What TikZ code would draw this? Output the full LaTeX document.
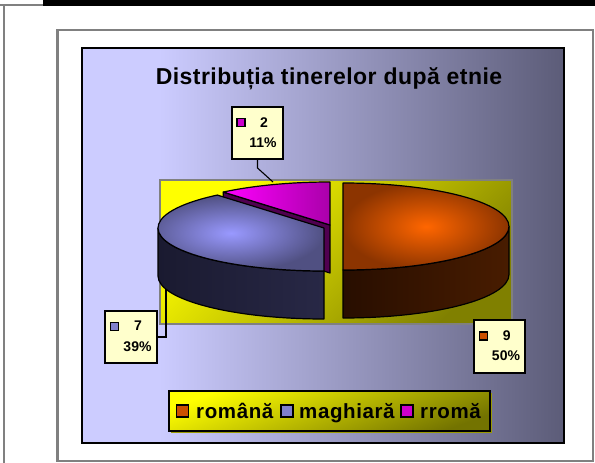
\documentclass[tikz,border=0pt]{standalone}
\usepackage{fontspec}
\setmainfont{Liberation Sans}
\newfontfamily\titlefont[LetterSpace=2]{Liberation Sans}
\newfontfamily\legfont[LetterSpace=3]{Liberation Sans}
\usetikzlibrary{calc}
\definecolor{bgL}{RGB}{204,204,255}
\definecolor{bgR}{RGB}{92,92,120}
\definecolor{frameGrey}{RGB}{128,128,128}
\definecolor{yelTop}{RGB}{255,255,0}
\definecolor{yelBot}{RGB}{128,128,0}
\definecolor{lblFill}{RGB}{255,255,204}
\definecolor{rmIn}{RGB}{255,102,0}
\definecolor{rmOut}{RGB}{140,52,0}
\definecolor{rmSideL}{RGB}{40,14,0}
\definecolor{rmSideM}{RGB}{150,58,0}
\definecolor{rmSideR}{RGB}{72,28,0}
\definecolor{mgIn}{RGB}{153,153,255}
\definecolor{mgOut}{RGB}{80,80,130}
\definecolor{mgSideL}{RGB}{26,26,48}
\definecolor{mgSideM}{RGB}{80,80,126}
\definecolor{mgSideR}{RGB}{40,40,70}
\definecolor{rrL}{RGB}{255,0,255}
\definecolor{rrR}{RGB}{170,0,170}
\definecolor{rrCut}{RGB}{80,0,80}
\definecolor{rmMark}{RGB}{204,80,0}
\definecolor{mgMark}{RGB}{128,128,204}
\definecolor{rrMark}{RGB}{204,0,204}
\pgfdeclarehorizontalshading{chartbg}{100bp}{color(0bp)=(bgL); color(25bp)=(bgL); color(33bp)=(bgL); color(75bp)=(bgR); color(100bp)=(bgR)}
\begin{document}
\begin{tikzpicture}[x=1pt,y=-1pt,
  pieline/.style={draw=black,line width=1.2pt,line join=round},
  lblbox/.style={draw=black,line width=1.3pt,fill=lblFill,inner sep=0pt},
  lbltext/.style={font=\fontsize{14}{15}\selectfont\bfseries,inner sep=0pt,anchor=base},
  markbox/.style={draw=black,line width=1.1pt,inner sep=0pt},
  legtext/.style={font=\legfont\fontsize{20.5}{22}\selectfont\bfseries,inner sep=0pt,anchor=base west},
  leader/.style={draw=black,line width=1.1pt}]
\useasboundingbox (0,0) rectangle (595,463);
\fill[white] (0,0) rectangle (595,463);
% page decorations
\fill[black] (43,0) rectangle (595,5.5);
\draw[frameGrey,line width=2pt] (0,5) -- (43,5);
\draw[frameGrey,line width=2pt] (4.3,5) -- (4.3,463);
\draw[frameGrey,line width=2.6pt] (57.5,30) rectangle (593,461);
% chart area
\shade[shading=chartbg] (82,48) rectangle (563.5,442.5);
\draw[black,line width=2pt] (82,48) rectangle (563.5,442.5);
\node[font=\titlefont\fontsize{23}{25}\selectfont\bfseries,inner sep=0pt,anchor=base] (title) at (329,84) {Distribuția tinerelor după etnie};
% plot area
\shade[top color=yelTop,bottom color=yelBot,shading angle=45] (160,180) rectangle (512,324);
\draw[frameGrey,line width=1.5pt] (160,180) rectangle (512,324);
% pie centres
\coordinate (Cr) at (330,225);
\coordinate (Cm) at (324,228);
\coordinate (Co) at (343,226.5);
% rroma slice
\filldraw[pieline,fill=rrCut] (Cr) -- ++(-130:166 and 43) -- ++(0,48) -- (330,273) -- cycle;
\shadedraw[pieline,left color=rrL,right color=rrR] (Cr) -- ++(-90:166 and 43) arc[start angle=-90,end angle=-130,x radius=166,y radius=43] -- cycle;
% maghiara slice
\shadedraw[pieline,left color=mgSideL,middle color=mgSideM,right color=mgSideR] (Cm) ++(180:166 and 43) arc[start angle=180,end angle=90,x radius=166,y radius=43] -- ++(0,48) arc[start angle=90,end angle=180,x radius=166,y radius=43] -- cycle;
\shadedraw[pieline,inner color=mgIn,outer color=mgOut] (Cm) -- ++(-130:166 and 43) arc[start angle=-130,end angle=-270,x radius=166,y radius=43] -- cycle;
% romana slice
\shadedraw[pieline,left color=rmSideL,middle color=rmSideM,right color=rmSideR] (Co) ++(90:166 and 43.5) arc[start angle=90,end angle=0,x radius=166,y radius=43.5] -- ++(0,48) arc[start angle=0,end angle=90,x radius=166,y radius=43.5] -- cycle;
\shadedraw[pieline,inner color=rmIn,outer color=rmOut] (Co) -- ++(-90:166 and 43.5) arc[start angle=-90,end angle=90,x radius=166,y radius=43.5] -- cycle;
% data labels
\node[lblbox,minimum width=51pt,minimum height=52pt] (b2) at (257.5,133) {};
\coordinate (l2a) at (257.5,168);
\coordinate (l2b) at (273,182);
\draw[leader] (b2.south) -- (l2a) -- (l2b);
\node[markbox,fill=rrMark,minimum size=8pt] (m2) at (241,122.5) {};
\node[lbltext] (v2) at (264,127.3) {2};
\node[lbltext] (p2) at (263,147.7) {11\%};

\node[lblbox,minimum width=52pt,minimum height=52pt] (b7) at (131,337) {};
\coordinate (l7a) at (166,337);
\coordinate (l7b) at (166,289);
\draw[leader] (b7.east) -- (l7a) -- (l7b);
\node[markbox,fill=mgMark,minimum size=8pt] (m7) at (114.5,326.5) {};
\node[lbltext] (v7) at (138,330.7) {7};
\node[lbltext] (p7) at (137.5,351.7) {39\%};

\node[lblbox,minimum width=51pt,minimum height=53pt] (b9) at (499.5,346.5) {};
\node[markbox,fill=rmMark,minimum size=8pt] (m9) at (483.5,336) {};
\node[lbltext] (v9) at (506.7,340.7) {9};
\node[lbltext] (p9) at (506,360) {50\%};
% legend
\fill[yelBot!80!yellow] (171,393) rectangle (492,433);
\shade[top color=yelTop,bottom color=yelBot!110,shading angle=20] (169,391) rectangle (490,431);
\draw[black,line width=1.3pt] (169,391) rectangle (490,431);
\node[markbox,fill=rmMark,minimum size=12pt] (k1) at (182.5,411) {};
\node[legtext] (t1) at (196,418.3) {română};
\node[markbox,fill=mgMark,minimum size=12pt] (k2) at (287,411) {};
\node[legtext] (t2) at (299,418.3) {maghiară};
\node[markbox,fill=rrMark,minimum size=12pt] (k3) at (407,411) {};
\node[legtext] (t3) at (420,418.3) {rromă};
\end{tikzpicture}
\end{document}
